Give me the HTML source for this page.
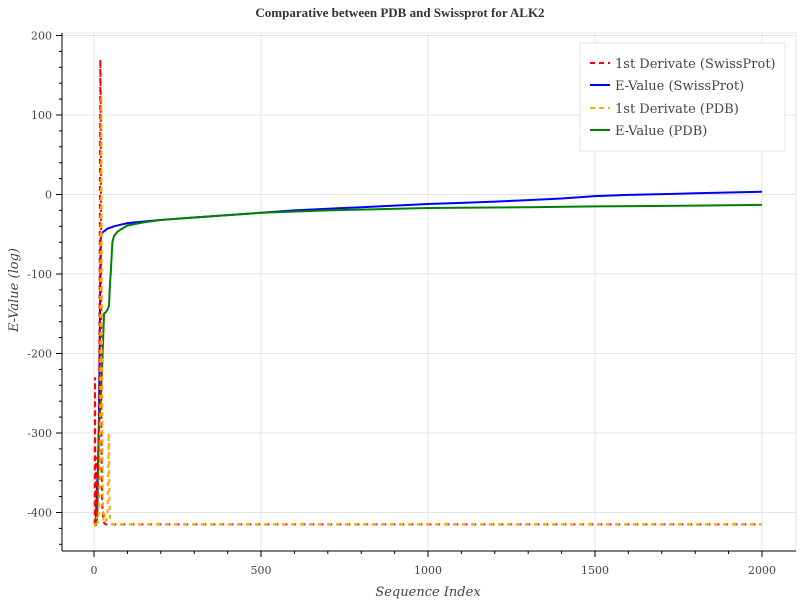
<!DOCTYPE html>
<html><head><meta charset="utf-8"><style>
body{margin:0;background:#fff;font-family:"DejaVu Serif",serif;}
</style></head><body>
<svg id="c" width="800" height="600" xmlns="http://www.w3.org/2000/svg" font-family="DejaVu Serif, serif">
<rect width="800" height="600" fill="#fff"/>
<text x="400" y="17" text-anchor="middle" font-size="13" font-weight="bold" fill="#333" font-family="Liberation Serif, serif">Comparative between PDB and Swissprot for ALK2</text>
<g id="grid"></g><g id="series"></g><g id="axes"></g>
<text x="428" y="596" text-anchor="middle" font-size="13" font-style="italic" fill="#444">Sequence Index</text>
<text transform="translate(18,290) rotate(-90)" text-anchor="middle" font-size="13" font-style="italic" fill="#444">E-Value (log)</text>
<g>
<rect x="580" y="43" width="205" height="108" fill="#fff" stroke="#e4e4e4"/>
<line x1="590" y1="63" x2="610" y2="63" stroke="red" stroke-width="2" stroke-dasharray="5,4"/>
<text x="615" y="68" font-size="13" fill="#444">1st Derivate (SwissProt)</text>
<line x1="590" y1="85" x2="610" y2="85" stroke="blue" stroke-width="2"/>
<text x="615" y="90" font-size="13" fill="#444">E-Value (SwissProt)</text>
<line x1="590" y1="108" x2="610" y2="108" stroke="orange" stroke-width="2" stroke-dasharray="5,4"/>
<text x="615" y="113" font-size="13" fill="#444">1st Derivate (PDB)</text>
<line x1="590" y1="130" x2="610" y2="130" stroke="green" stroke-width="2"/>
<text x="615" y="135" font-size="13" fill="#444">E-Value (PDB)</text>
</g>
</svg>
<script>
const xTicks=[0,500,1000,1500,2000];
const yTicks=[200,100,0,-100,-200,-300,-400];
const spX=[5,8,12,15,18,20,25,40,60,80,100,150,200,300,400,500,600,700,800,900,1000,1100,1200,1300,1400,1500,1600,1700,1750,1800,1850,1900,1950,2000];
const spY=[-415,-380,-340,-280,-150,-55,-48,-43,-40,-38,-36,-34,-32,-29,-26,-23,-20,-18,-16,-14,-12,-10.5,-9,-7,-5,-2,-0.5,0.5,1,1.5,2,2.5,3,3.5];
const pdX=[5,10,12,15,20,25,30,35,40,45,48,50,55,60,70,80,100,150,200,300,400,500,700,1000,1300,1500,1800,2000];
const pdY=[-417,-405,-350,-290,-260,-210,-150,-148,-145,-140,-110,-100,-60,-52,-47,-44,-39,-35,-32,-29,-26,-23,-20,-17,-16,-15,-14,-13];
const dsX=[2,3,4,5,6,8,10,12,15,17,19,20,21,22,24,26,28,30,35,40,50,100,500,1000,1500,1800,2000];
const dsY=[-415,-230,-400,-410,-330,-410,-390,-360,-300,-100,170,130,-50,-300,-380,-400,-410,-413,-415,-415,-415,-415,-415,-415,-415,-415,-415];
const dpX=[3,5,8,10,14,18,20,22,24,26,28,30,35,40,42,44,46,48,50,55,60,80,500,1000,1500,2000];
const dpY=[-418,-410,-405,-415,-400,-350,-50,125,-200,-380,-410,-400,-412,-405,-360,-300,-380,-410,-413,-415,-415,-415,-415,-415,-415,-415];
const X=v=>94+v*(762-94)/2000, Y=v=>194.5-v*0.795;
const ns="http://www.w3.org/2000/svg";
function mk(t,a,p){const e=document.createElementNS(ns,t);for(const k in a)e.setAttribute(k,a[k]);p.appendChild(e);return e;}
const g=document.getElementById('grid'),ax=document.getElementById('axes'),s=document.getElementById('series');
const B=551;
xTicks.forEach(t=>{const l=mk('line',{x1:X(t),x2:X(t),y1:33,y2:B,stroke:'#e5e5e5'},g);


const tx=mk('text',{x:X(t),y:574,'text-anchor':'middle','font-size':11,fill:'#444'},ax);tx.textContent=t;

});
for(let v=0;v<=2000;v+=100)mk('line',{x1:X(v),x2:X(v),y1:B,y2:v%500?B+3:B+6,stroke:'#000'},ax);
yTicks.forEach(t=>{const l=mk('line',{x1:62,x2:796,y1:Y(t),y2:Y(t),stroke:'#e5e5e5'},g);


const tx=mk('text',{x:52,y:Y(t)+4,'text-anchor':'end','font-size':11,fill:'#444'},ax);tx.textContent=t;

});
for(let v=-440;v<=200;v+=20){if(Y(v)<B&&Y(v)>=33)mk('line',{x1:v%100?59:56,x2:62,y1:Y(v),y2:Y(v),stroke:'#000'},ax);}
mk('line',{x1:62,x2:62,y1:33,y2:B,stroke:'#000'},ax);
mk('line',{x1:62,x2:796,y1:B,y2:B,stroke:'#000'},ax);
mk('rect',{x:62,y:33,width:734,height:B-33,fill:'none',stroke:'#e5e5e5'},g);
function line(xs,ys,c,d,n){const p=mk('polyline',{points:xs.map((x,i)=>X(x)+','+Y(ys[i])).join(' '),fill:'none',stroke:c,'stroke-width':2,'stroke-dasharray':d||'none'},s);

}
line(spX,spY,'blue','', 'swissprot-evalue-line');
line(pdX,pdY,'green','', 'pdb-evalue-line');
line(dsX,dsY,'red','5,4','swissprot-derivate-line');
line(dpX,dpY,'orange','4,5','pdb-derivate-line');
</script>
</body></html>
